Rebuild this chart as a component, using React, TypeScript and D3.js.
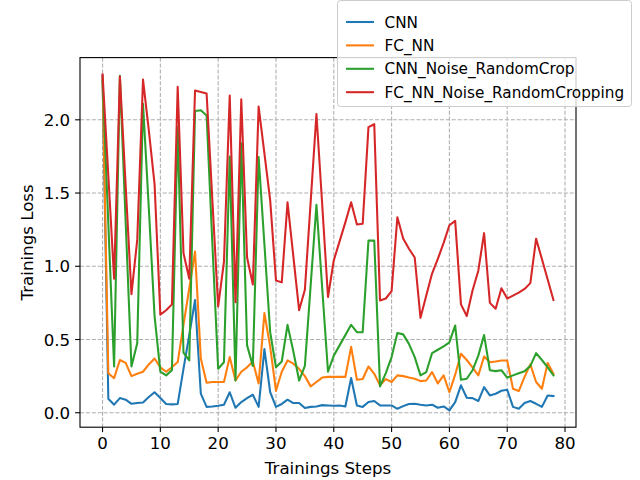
import React from "react";
import * as d3 from "d3";

const steps: number[] = Array.from({ length: 79 }, (_, i) => i);

const cnn: number[] = [
  2.3, 0.096, 0.055, 0.1, 0.089, 0.061, 0.066, 0.07, 0.107, 0.14,
  0.1, 0.06, 0.057, 0.06, 0.3, 0.53, 0.77, 0.13, 0.04, 0.043,
  0.048, 0.055, 0.14, 0.034, 0.073, 0.1, 0.123, 0.04, 0.435, 0.14,
  0.04, 0.06, 0.089, 0.066, 0.066, 0.032, 0.04, 0.043, 0.052, 0.05,
  0.048, 0.05, 0.043, 0.237, 0.05, 0.04, 0.073, 0.08, 0.05, 0.05,
  0.05, 0.027, 0.045, 0.06, 0.061, 0.055, 0.05, 0.055, 0.034, 0.043,
  0.016, 0.073, 0.187, 0.102, 0.1, 0.08, 0.175, 0.118, 0.13, 0.15,
  0.157, 0.04, 0.027, 0.066, 0.08, 0.061, 0.04, 0.118, 0.114,
];

const fcNN: number[] = [
  2.29, 0.27, 0.236, 0.36, 0.34, 0.25, 0.266, 0.28, 0.33, 0.37,
  0.31, 0.28, 0.31, 0.346, 0.6, 0.85, 1.1, 0.37, 0.205, 0.21,
  0.21, 0.21, 0.38, 0.22, 0.28, 0.31, 0.35, 0.2, 0.68, 0.45,
  0.15, 0.28, 0.357, 0.335, 0.3, 0.25, 0.18, 0.21, 0.24, 0.245,
  0.245, 0.245, 0.245, 0.45, 0.225, 0.23, 0.316, 0.266, 0.187, 0.23,
  0.21, 0.255, 0.25, 0.24, 0.232, 0.216, 0.22, 0.278, 0.2, 0.255,
  0.14, 0.26, 0.403, 0.36, 0.31, 0.255, 0.384, 0.345, 0.35, 0.357,
  0.357, 0.164, 0.148, 0.245, 0.33, 0.21, 0.164, 0.34, 0.266,
];

const cnnNoise: number[] = [
  2.27, 1.29, 0.316, 2.3, 1.3, 0.316, 0.475, 2.11, 1.4, 0.66,
  0.28, 0.255, 0.29, 1.95, 0.41, 0.357, 2.06, 2.065, 2.03, 1.15,
  0.3, 0.345, 1.75, 0.22, 1.84, 0.46, 0.32, 1.745, 1.15, 0.55,
  0.31, 0.35, 0.6, 0.42, 0.22, 0.32, 0.87, 1.42, 0.85, 0.28,
  0.39, 0.46, 0.53, 0.6, 0.55, 0.55, 1.175, 1.175, 0.18, 0.27,
  0.38, 0.545, 0.535, 0.47, 0.38, 0.255, 0.278, 0.407, 0.43, 0.453,
  0.48, 0.596, 0.225, 0.232, 0.29, 0.39, 0.53, 0.29, 0.284, 0.29,
  0.24, 0.255, 0.27, 0.284, 0.32, 0.407, 0.36, 0.31, 0.255,
];

const fcNNNoise: number[] = [
  2.31, 1.62, 0.915, 2.296, 1.55, 0.81, 1.18, 2.275, 1.93, 1.56,
  0.67, 0.7, 0.74, 2.226, 1.09, 0.915, 2.2, 2.19, 2.18, 1.45,
  0.726, 1.03, 2.165, 0.755, 2.14, 1.06, 0.876, 2.09, 1.77, 1.45,
  0.903, 0.89, 1.437, 1.07, 0.7, 0.84, 1.44, 2.04, 1.42, 0.79,
  1.04, 1.17, 1.3, 1.437, 1.285, 1.29, 1.95, 1.97, 0.766, 0.78,
  0.83, 1.335, 1.19, 1.12, 1.06, 0.648, 0.8, 0.95, 1.05, 1.16,
  1.28, 1.31, 0.74, 0.66, 0.835, 0.97, 1.226, 0.75, 0.71, 0.85,
  0.78, 0.8, 0.82, 0.845, 0.885, 1.188, 1.05, 0.91, 0.77,
];

const seriesNames: string[] = ["CNN", "FC_NN", "CNN_Noise_RandomCrop", "FC_NN_Noise_RandomCropping"];
const seriesColors: string[] = ["#1f77b4", "#ff7f0e", "#2ca02c", "#d62728"];
const seriesValues: number[][] = [cnn, fcNN, cnnNoise, fcNNNoise];

const xTicks: number[] = [0, 10, 20, 30, 40, 50, 60, 70, 80];
const yTicks: number[] = [0, 0.5, 1.0, 1.5, 2.0];
const xLabel = "Trainings Steps";
const yLabel = "Trainings Loss";

const W = 640, H = 480;
const L = 80, R = 576, T = 57.6, B = 427.2;
const FONT = "DejaVu Sans, sans-serif";
const FS = 16.67;
const LFS = 15.28;

export default function App() {
  const xMin = d3.min(steps)!, xMax = d3.max(steps)!;
  const xPad = (xMax - xMin) * 0.05;
  const all = seriesValues.flat();
  const yMin = d3.min(all)!, yMax = d3.max(all)!;
  const yPad = (yMax - yMin) * 0.05;
  const x = d3.scaleLinear().domain([xMin - xPad, xMax + xPad]).range([L, R]);
  const y = d3.scaleLinear().domain([yMin - yPad, yMax + yPad]).range([B, T]);
  const line = d3.line<number>().x((_, i) => x(steps[i])).y((d) => y(d));

  const legX = 337.5, legY = 0.5, legW = 294, legH = 106;
  const rowY = (i: number) => 22 + i * 23.4;

  return (
    <svg width={W} height={H} style={{ position: "absolute", left: 0, top: 0, background: "#fff" }} fontFamily={FONT}>
      <rect x={0} y={0} width={W} height={H} fill="#fff" />
      <defs>
        <clipPath id="plotclip">
          <rect x={L} y={T} width={R - L} height={B - T} />
        </clipPath>
      </defs>
      {xTicks.map((t) => (
        <line key={"gx" + t} x1={x(t)} x2={x(t)} y1={T} y2={B} stroke="#b0b0b0" strokeWidth={1.1} strokeDasharray="4.1,1.8" />
      ))}
      {yTicks.map((t) => (
        <line key={"gy" + t} x1={L} x2={R} y1={y(t)} y2={y(t)} stroke="#b0b0b0" strokeWidth={1.1} strokeDasharray="4.1,1.8" />
      ))}
      <g clipPath="url(#plotclip)">
        {seriesValues.map((vals, i) => (
          <path key={seriesNames[i]} d={line(vals) || ""} fill="none" stroke={seriesColors[i]} strokeWidth={2.08} strokeLinejoin="round" strokeLinecap="square" />
        ))}
      </g>
      <rect x={L} y={T} width={R - L} height={B - T} fill="none" stroke="#000" strokeWidth={1.1} />
      {xTicks.map((t) => (
        <g key={"xt" + t}>
          <line x1={x(t)} x2={x(t)} y1={B} y2={B + 4.9} stroke="#000" strokeWidth={1.1} />
          <text x={x(t)} y={B + 21.6} textAnchor="middle" fontSize={FS} fill="#000">{t}</text>
        </g>
      ))}
      {yTicks.map((t) => (
        <g key={"yt" + t}>
          <line x1={L - 4.9} x2={L} y1={y(t)} y2={y(t)} stroke="#000" strokeWidth={1.1} />
          <text x={L - 9.8} y={y(t) + 6} textAnchor="end" fontSize={FS} fill="#000">{t.toFixed(1)}</text>
        </g>
      ))}
      <text x={(L + R) / 2} y={474} textAnchor="middle" fontSize={FS} fill="#000">{xLabel}</text>
      <text transform={`translate(32.5,${(T + B) / 2}) rotate(-90)`} textAnchor="middle" fontSize={FS} fill="#000">{yLabel}</text>
      <rect x={legX} y={legY} width={legW} height={legH} rx={3} ry={3} fill="#fff" fillOpacity={0.8} stroke="#cccccc" strokeWidth={1} />
      {seriesNames.map((n, i) => (
        <g key={"leg" + n}>
          <line x1={346} x2={374} y1={rowY(i)} y2={rowY(i)} stroke={seriesColors[i]} strokeWidth={2.08} />
          <text x={384.5} y={rowY(i) + 5.5} fontSize={LFS} fill="#000">{n}</text>
        </g>
      ))}
    </svg>
  );
}
